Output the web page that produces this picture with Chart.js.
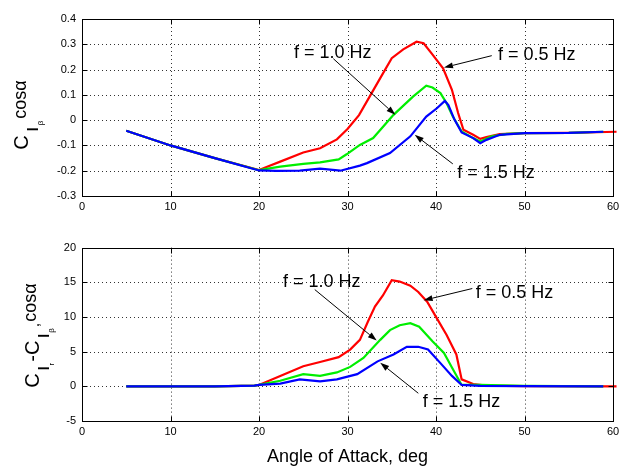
<!DOCTYPE html>
<html><head><meta charset="utf-8">
<script src="https://cdn.jsdelivr.net/npm/chart.js@4.4.0/dist/chart.umd.min.js"></script>
<style>
html,body{margin:0;padding:0;background:#fff;}
canvas{display:block;}
</style></head><body>
<canvas id="topChart" width="626" height="235"></canvas>
<canvas id="botChart" width="626" height="235"></canvas>
<script>
// ---------- data ----------
const xTicks = [0, 10, 20, 30, 40, 50, 60];
const topYTicks = [-0.3, -0.2, -0.1, 0, 0.1, 0.2, 0.3, 0.4];
const botYTicks = [-5, 0, 5, 10, 15, 20];
const xTitle = 'Angle of Attack, deg';
const labels = ['f = 0.5 Hz', 'f = 1.0 Hz', 'f = 1.5 Hz'];

// top panel: C_l_beta cos(alpha)
const topRedX   = [5, 10, 15, 20, 22.4, 25, 26.9, 28.8, 30, 31.3, 32.5, 33.7, 35.0, 36.3, 37.8, 38.6, 39.5, 40.8, 41.8, 42.5, 43.1, 44.2, 45.0, 45.7, 47.2, 50, 55, 60.4];
const topRedY   = [-0.042, -0.100, -0.150, -0.197, -0.164, -0.128, -0.111, -0.076, -0.035, 0.020, 0.093, 0.166, 0.245, 0.280, 0.310, 0.304, 0.264, 0.205, 0.120, 0.028, -0.038, -0.058, -0.074, -0.067, -0.055, -0.051, -0.050, -0.046];
const topGreenX = [5, 10, 15, 20, 22.4, 25, 26.9, 29.0, 29.9, 31.4, 32.9, 35.2, 37.4, 38.9, 39.6, 40.5, 41.2, 41.9, 42.9, 44.2, 45.0, 46.3, 48.0, 50, 55, 58.9];
const topGreenY = [-0.042, -0.100, -0.150, -0.198, -0.184, -0.173, -0.167, -0.155, -0.135, -0.098, -0.071, 0.021, 0.093, 0.136, 0.129, 0.107, 0.067, 0.014, -0.045, -0.071, -0.084, -0.064, -0.054, -0.051, -0.050, -0.046];
const topBlueX  = [5, 10, 15, 20, 22, 24.6, 26.9, 29.2, 31.4, 32.2, 34.8, 37.1, 38.9, 40.1, 41.0, 41.4, 42.1, 42.9, 44.2, 45.0, 45.7, 47.2, 50, 55, 58.9];
const topBlueY  = [-0.042, -0.100, -0.150, -0.199, -0.201, -0.200, -0.192, -0.200, -0.180, -0.170, -0.130, -0.064, 0.014, 0.047, 0.076, 0.060, 0.001, -0.049, -0.071, -0.091, -0.078, -0.058, -0.051, -0.050, -0.046];

// bottom panel: C_l_r - C_l_beta cos(alpha)
const botRedX   = [5, 10, 15, 19.5, 20, 22.4, 25, 26.9, 29.0, 30.3, 31.4, 32.3, 33.1, 34.0, 35.0, 35.9, 37.1, 38.0, 39.0, 40.1, 41.2, 42.3, 42.9, 44.2, 45.7, 50, 60.4];
const botRedY   = [0, 0, 0, 0.1, 0.2, 1.5, 2.9, 3.5, 4.2, 5.3, 6.7, 9.3, 11.5, 13.1, 15.3, 15.1, 14.5, 13.6, 12.2, 9.8, 7.4, 4.6, 1.0, 0.33, 0.1, 0.02, 0];
const botGreenX = [5, 10, 15, 19.5, 20, 22.4, 25, 26.9, 28.8, 30.3, 31.8, 33.7, 34.8, 35.9, 37.1, 38.1, 39.6, 40.9, 41.8, 42.9, 45, 50, 58.9];
const botGreenY = [0, 0, 0, 0.1, 0.2, 0.8, 1.75, 1.5, 2.0, 2.8, 4.1, 6.7, 8.1, 8.8, 9.1, 8.6, 6.5, 4.8, 2.7, 0.2, 0.2, 0.05, 0];
const botBlueX  = [5, 10, 15, 19.5, 20, 22.4, 24.6, 26.9, 28.8, 31.1, 33.4, 35.2, 36.7, 38.0, 39.1, 40.6, 41.8, 42.9, 45, 50, 58.9];
const botBlueY  = [0, 0, 0, 0.1, 0.2, 0.4, 1.0, 0.7, 1.0, 1.75, 3.6, 4.6, 5.7, 5.7, 5.3, 3.2, 1.5, 0.2, 0.05, 0.02, 0];

// annotation placement (data coordinates)
const topNotes = [
  {text: labels[1], at: [23.95, 0.267], from: [28.4, 0.243], to: [35.4, 0.021]},
  {text: labels[0], at: [47.0, 0.259],  from: [46.3, 0.255], to: [40.9, 0.208]},
  {text: labels[2], at: [42.4, -0.209], from: [41.9, -0.173], to: [37.6, -0.058]}
];
const botNotes = [
  {text: labels[1], at: [22.7, 15.1], from: [26.3, 13.95], to: [33.3, 6.6]},
  {text: labels[0], at: [44.5, 13.5], from: [44.1, 14.1], to: [38.6, 12.4]},
  {text: labels[2], at: [38.5, -2.3], from: [38.0, -1.0], to: [33.7, 3.4]}
];

// ---------- helpers ----------
const FAM = '"Liberation Sans", Arial, Helvetica, sans-serif';
const pts = (xs, ys) => xs.map((x, i) => ({x: x, y: ys[i]}));

function drawRotTitle(ctx, pieces, baseX, centerY) {
  ctx.save();
  let total = 0; const ws = [];
  for (const p of pieces) {
    ctx.font = p.f + ' ' + FAM;
    const w = ctx.measureText(p.t).width; ws.push(w);
    total += (p.pre || 0) + w;
  }
  ctx.translate(baseX, centerY + total / 2);
  ctx.rotate(-Math.PI / 2);
  ctx.fillStyle = '#000'; ctx.textAlign = 'left'; ctx.textBaseline = 'alphabetic';
  let u = 0;
  pieces.forEach((p, i) => {
    u += p.pre || 0;
    ctx.font = p.f + ' ' + FAM;
    ctx.fillText(p.t, u, p.dv);
    u += ws[i];
  });
  ctx.restore();
}

function makeFramePlugin(yTicks, notes, titleFn) {
  return {
    id: 'frame',
    beforeDatasetsDraw(chart) {
      const {ctx, chartArea: a, scales: {x, y}} = chart;
      ctx.save();
      ctx.strokeStyle = '#333'; ctx.lineWidth = 1; ctx.setLineDash([1, 3]);
      ctx.beginPath();
      for (const v of xTicks) {
        const px = Math.round(x.getPixelForValue(v)) + 0.5;
        if (px <= a.left + 2 || px >= a.right - 2) continue;
        ctx.moveTo(px, a.top); ctx.lineTo(px, a.bottom);
      }
      for (const v of yTicks) {
        const py = Math.round(y.getPixelForValue(v)) + 0.5;
        if (py <= a.top + 2 || py >= a.bottom - 2) continue;
        ctx.moveTo(a.left, py); ctx.lineTo(a.right, py);
      }
      ctx.stroke();
      ctx.restore();
    },
    afterDatasetsDraw(chart) {
      const {ctx, chartArea: a, scales: {x, y}} = chart;
      ctx.save();
      // box
      const L = Math.round(a.left) + 0.5, R = Math.round(a.right) + 0.5,
            T = Math.round(a.top) + 0.5, B = Math.round(a.bottom) + 0.5;
      ctx.strokeStyle = '#000'; ctx.lineWidth = 1; ctx.setLineDash([]);
      ctx.strokeRect(L, T, R - L, B - T);
      // inner ticks
      const tl = 5;
      ctx.beginPath();
      for (const v of xTicks) {
        const px = Math.round(x.getPixelForValue(v)) + 0.5;
        ctx.moveTo(px, B); ctx.lineTo(px, B - tl);
        ctx.moveTo(px, T); ctx.lineTo(px, T + tl);
      }
      for (const v of yTicks) {
        const py = Math.round(y.getPixelForValue(v)) + 0.5;
        ctx.moveTo(L, py); ctx.lineTo(L + tl, py);
        ctx.moveTo(R, py); ctx.lineTo(R - tl, py);
      }
      ctx.stroke();
      // annotations
      ctx.fillStyle = '#000';
      ctx.font = '18px ' + FAM;
      ctx.textAlign = 'left'; ctx.textBaseline = 'middle';
      for (const n of notes) {
        ctx.fillText(n.text, x.getPixelForValue(n.at[0]), y.getPixelForValue(n.at[1]));
        const x1 = x.getPixelForValue(n.from[0]), y1 = y.getPixelForValue(n.from[1]);
        const x2 = x.getPixelForValue(n.to[0]), y2 = y.getPixelForValue(n.to[1]);
        const ang = Math.atan2(y2 - y1, x2 - x1);
        const hl = 9, hw = 3;
        ctx.beginPath(); ctx.lineWidth = 1;
        ctx.moveTo(x1, y1);
        ctx.lineTo(x2 - hl * Math.cos(ang), y2 - hl * Math.sin(ang));
        ctx.stroke();
        ctx.beginPath();
        ctx.moveTo(x2, y2);
        ctx.lineTo(x2 - hl * Math.cos(ang) + hw * Math.sin(ang), y2 - hl * Math.sin(ang) - hw * Math.cos(ang));
        ctx.lineTo(x2 - hl * Math.cos(ang) - hw * Math.sin(ang), y2 - hl * Math.sin(ang) + hw * Math.cos(ang));
        ctx.closePath(); ctx.fill();
      }
      ctx.restore();
      titleFn(chart);
    }
  };
}

function makeChart(id, sets, yMin, yMax, yTicks, notes, pad, xHeight, titleFn) {
  const colors = ['#ff0000', '#00ee00', '#0000ff'];
  return new Chart(document.getElementById(id), {
    type: 'line',
    data: {
      datasets: sets.map((d, i) => ({
        label: labels[i],
        data: d,
        borderColor: colors[i],
        backgroundColor: colors[i],
        borderWidth: 2.2,
        pointRadius: 0,
        tension: 0,
        fill: false,
        order: 3 - i,
        clip: i === 0 ? 6 : 0
      }))
    },
    options: {
      responsive: false,
      devicePixelRatio: 1,
      animation: false,
      layout: {padding: pad},
      plugins: {legend: {display: false}, tooltip: {enabled: false}},
      scales: {
        x: {
          type: 'linear', min: 0, max: 60,
          grid: {display: false, drawTicks: false},
          border: {display: false},
          afterBuildTicks: s => { s.ticks = xTicks.map(v => ({value: v})); },
          afterFit: s => { s.height = xHeight; },
          ticks: {autoSkip: false, maxRotation: 0, padding: 4, color: '#000',
                  font: {family: FAM, size: 11},
                  callback: v => String(v)}
        },
        y: {
          type: 'linear', min: yMin, max: yMax,
          grid: {display: false, drawTicks: false},
          border: {display: false},
          afterBuildTicks: s => { s.ticks = yTicks.map(v => ({value: v})); },
          afterFit: s => { s.width = 82; },
          ticks: {autoSkip: false, padding: 6, color: '#000',
                  font: {family: FAM, size: 11},
                  callback: v => String(Math.round(v * 10) / 10)}
        }
      }
    },
    plugins: [makeFramePlugin(yTicks, notes, titleFn)]
  });
}

makeChart('topChart',
  [pts(topRedX, topRedY), pts(topGreenX, topGreenY), pts(topBlueX, topBlueY)],
  -0.3, 0.4, topYTicks, topNotes, {top: 19, right: 13, left: 0, bottom: 0}, 39,
  chart => {
    drawRotTitle(chart.ctx, [
      {t: 'C', f: '20px', dv: 0},
      {t: 'l', f: 'bold 14px', dv: 10, pre: 4},
      {t: 'β', f: '8px', dv: 15, pre: 2},
      {t: 'cosα', f: '18px', dv: -2.6, pre: 2}
    ], 28.3, 115);
  });

makeChart('botChart',
  [pts(botRedX, botRedY), pts(botGreenX, botGreenY), pts(botBlueX, botBlueY)],
  -5, 20, botYTicks, botNotes, {top: 9, right: 13, left: 0, bottom: 0}, 49,
  chart => {
    const ctx = chart.ctx, a = chart.chartArea;
    drawRotTitle(ctx, [
      {t: 'C', f: '20px', dv: 0},
      {t: 'l', f: 'bold 14px', dv: 10, pre: 3},
      {t: 'r', f: '8px', dv: 15, pre: 1},
      {t: '-', f: '20px', dv: 0, pre: 1},
      {t: 'C', f: '20px', dv: 0},
      {t: 'l', f: 'bold 14px', dv: 10, pre: 3},
      {t: 'β', f: '8px', dv: 15, pre: 1},
      {t: ',', f: '16px', dv: 0, pre: 1},
      {t: 'cosα', f: '18px', dv: -2.6, pre: 1}
    ], 39, 100.5);
    ctx.save();
    ctx.fillStyle = '#000'; ctx.font = '18px ' + FAM;
    ctx.textAlign = 'center'; ctx.textBaseline = 'middle';
    ctx.fillText(xTitle, (a.left + a.right) / 2, 221.7);
    ctx.restore();
  });
</script>
</body></html>
